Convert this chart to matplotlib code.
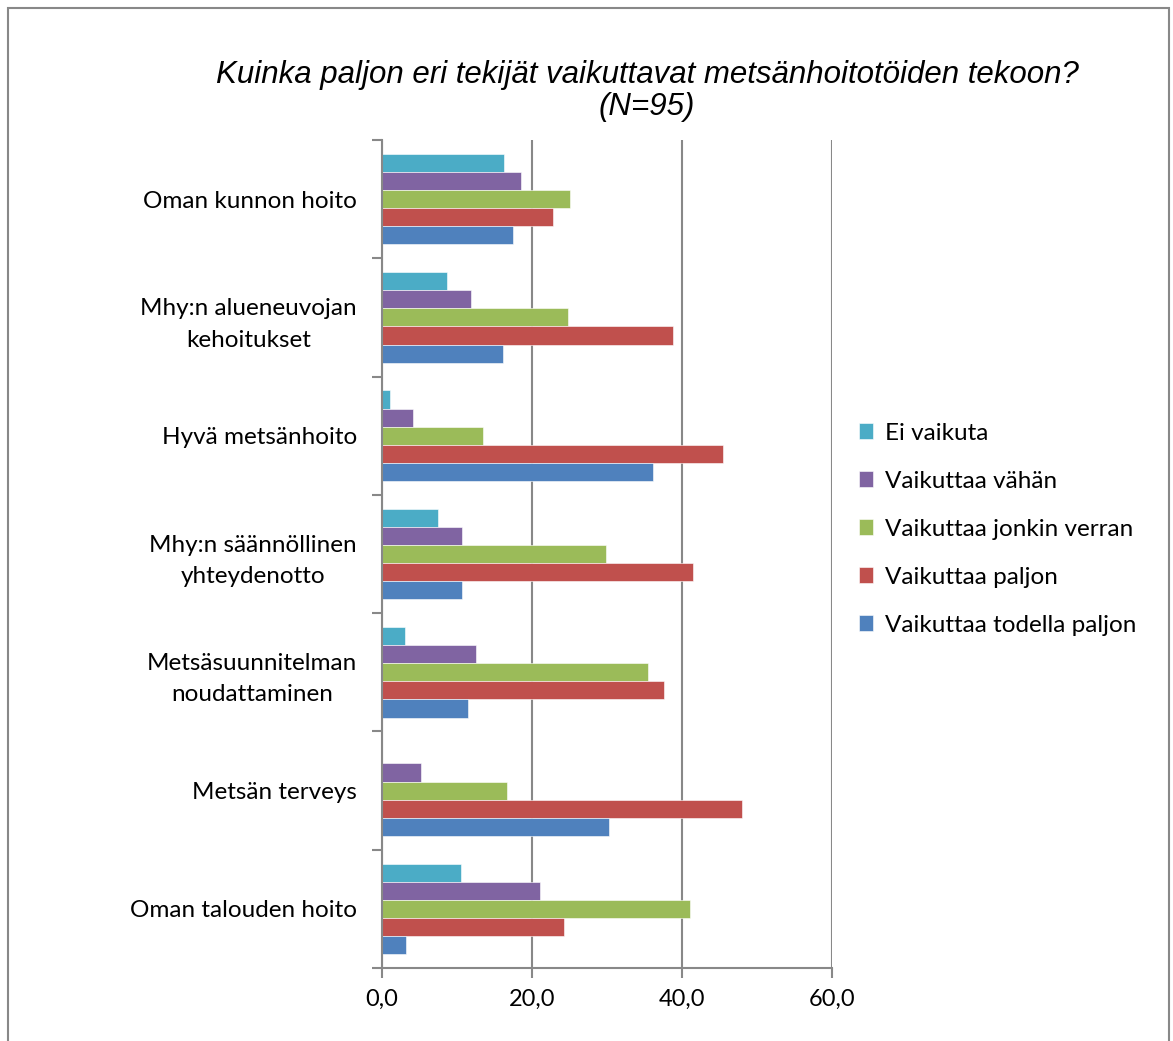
import numpy as np
import matplotlib
matplotlib.use('agg')
import matplotlib.pyplot as plt
from matplotlib.patches import Rectangle

# categories listed top to bottom as in the chart
categories = ['Oman kunnon hoito', 'Mhy:n alueneuvojan\nkehoitukset', 'Hyvä metsänhoito',
              'Mhy:n säännöllinen\nyhteydenotto', 'Metsäsuunnitelman\nnoudattaminen',
              'Metsän terveys', 'Oman talouden hoito']
series = ['Ei vaikuta', 'Vaikuttaa vähän', 'Vaikuttaa jonkin verran',
          'Vaikuttaa paljon', 'Vaikuttaa todella paljon']
ei_vaikuta = [16.3, 8.6, 1.0, 7.4, 3.1, 0.0, 10.5]
vahan = [18.5, 11.8, 4.1, 10.6, 12.5, 5.2, 21.1]
jonkin_verran = [25.0, 24.8, 13.4, 29.8, 35.5, 16.7, 41.1]
paljon = [22.8, 38.8, 45.4, 41.5, 37.6, 48.0, 24.2]
todella_paljon = [17.4, 16.1, 36.1, 10.6, 11.4, 30.2, 3.2]
xticks = [0, 20, 40, 60]
xticklabels = ['0,0', '20,0', '40,0', '60,0']

colors = ['#4BACC6', '#8064A2', '#9BBB59', '#C0504D', '#4F81BD']
values = [ei_vaikuta, vahan, jonkin_verran, paljon, todella_paljon]

plt.rcParams['font.family'] = ['Lato', 'DejaVu Sans']

fig = plt.figure(figsize=(11.73, 10.41), dpi=100)
ax = fig.add_axes([382/1173, 1-968/1041, 450/1173, 828/1041])

n = len(categories)
y = np.arange(n)
h = 0.153
for i, (name, vals, c) in enumerate(zip(series, values, colors)):
    offs = (i - 2) * h
    ax.barh(y + offs, vals, height=h, color=c, label=name, edgecolor='white', linewidth=0.4)

ax.set_ylim(n - 0.5, -0.5)
ax.set_xlim(0, 60)
ax.set_xticks(xticks)
ax.set_xticklabels(xticklabels, fontsize=17)
ax.set_yticks(y)
ax.set_yticklabels(categories, fontsize=17.5, ha='right', multialignment='center', linespacing=1.6)
ax.set_yticks(np.arange(n + 1) - 0.5, minor=True)
ax.tick_params(axis='y', which='major', length=0, pad=18)
ax.tick_params(axis='y', which='minor', length=7, color='#888888', width=1.5)
ax.tick_params(axis='x', length=7, color='#888888', width=1.5, pad=8)
ax.xaxis.grid(True, color='#888888', linewidth=1.5)
ax.set_axisbelow(True)
for s in ['top', 'right']:
    ax.spines[s].set_visible(False)
for s in ['left', 'bottom']:
    ax.spines[s].set_color('#888888')
    ax.spines[s].set_linewidth(1.5)

fig.text(647/1173, 1-91/1041, 'Kuinka paljon eri tekijät vaikuttavat metsänhoitotöiden tekoon?\n(N=95)',
         ha='center', va='center', fontsize=22.5, style='italic',
         family=['Liberation Sans', 'DejaVu Sans'], linespacing=1.05)

ax.legend(loc='upper left', bbox_to_anchor=(849/1173, 1-413/1041), bbox_transform=fig.transFigure,
          frameon=False, fontsize=17.5, handlelength=0.6, handleheight=0.6,
          labelspacing=1.11, handletextpad=0.5, borderaxespad=0)

fig.patches.append(Rectangle((8/1173, -0.05), 1161/1173, 1.05 - 8/1041, transform=fig.transFigure,
                             fill=False, edgecolor='#888888', linewidth=1.5))

fig.savefig('out.png', dpi=100)
plt.close()
